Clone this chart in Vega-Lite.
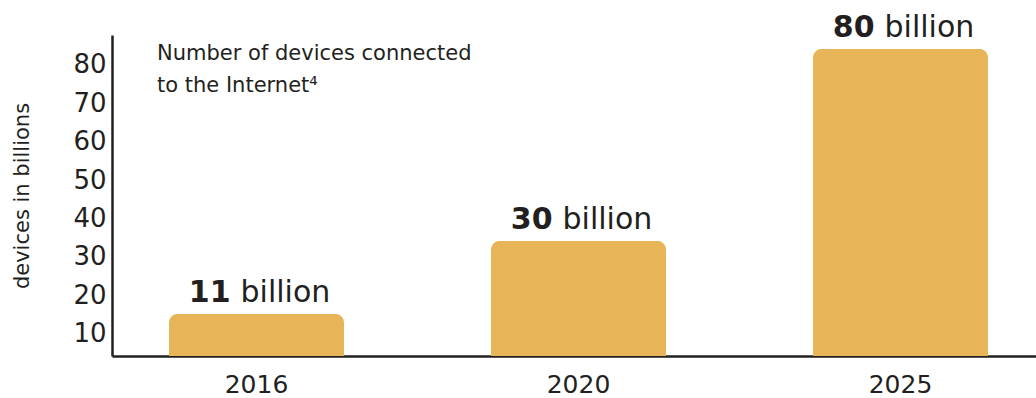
{
  "$schema": "https://vega.github.io/schema/vega-lite/v6.json",
  "autosize": "none",
  "width": 924,
  "height": 321,
  "padding": {"left": 112, "top": 35, "right": 0, "bottom": 42},
  "background": "white",
  "config": {
    "font": "DejaVu Sans",
    "view": {"stroke": null}
  },
  "title": {
    "text": ["Number of devices connected", "to the Internet⁴"],
    "anchor": "start",
    "frame": "group",
    "orient": "top",
    "fontSize": 21,
    "fontWeight": "normal",
    "color": "#231f20",
    "lineHeight": 32,
    "baseline": "top",
    "offset": 0,
    "dx": 45,
    "dy": 83
  },
  "data": {
    "values": [
      {"year": "2016", "devices": 11, "number": "11"},
      {"year": "2020", "devices": 30, "number": "30"},
      {"year": "2025", "devices": 80, "number": "80"}
    ]
  },
  "encoding": {
    "x": {
      "field": "year",
      "type": "ordinal",
      "scale": {"paddingInner": 0.4565, "paddingOuter": 0.163, "align": 0.543},
      "axis": {
        "title": null,
        "labelAngle": 0,
        "ticks": false,
        "domainColor": "#231f20",
        "domainWidth": 2.5,
        "labelFontSize": 25,
        "labelColor": "#231f20",
        "labelPadding": 16,
        "labelBaseline": "top"
      }
    },
    "y": {
      "field": "devices",
      "type": "quantitative",
      "scale": {"domain": [0, 83.6], "nice": false},
      "axis": {
        "title": "devices in billions",
        "titleFontSize": 21,
        "titleFontWeight": "normal",
        "titleColor": "#231f20",
        "titlePadding": 40,
        "values": [10, 20, 30, 40, 50, 60, 70, 80],
        "ticks": false,
        "grid": false,
        "domainColor": "#231f20",
        "domainWidth": 2.5,
        "labelFontSize": 26,
        "labelColor": "#231f20",
        "labelPadding": 6,
        "labelBaseline": "top",
        "labelOffset": 3
      }
    }
  },
  "layer": [
    {
      "mark": {"type": "bar", "color": "#e8b458", "cornerRadiusTopLeft": 9, "cornerRadiusTopRight": 9}
    },
    {
      "mark": {"type": "text", "align": "right", "baseline": "alphabetic", "dx": -26, "dy": -12, "fontSize": 30, "fontWeight": "bold", "color": "#231f20"},
      "encoding": {"text": {"field": "number"}}
    },
    {
      "mark": {"type": "text", "align": "left", "baseline": "alphabetic", "dx": -16, "dy": -12, "fontSize": 30, "color": "#231f20"},
      "encoding": {"text": {"value": "billion"}}
    }
  ]
}
